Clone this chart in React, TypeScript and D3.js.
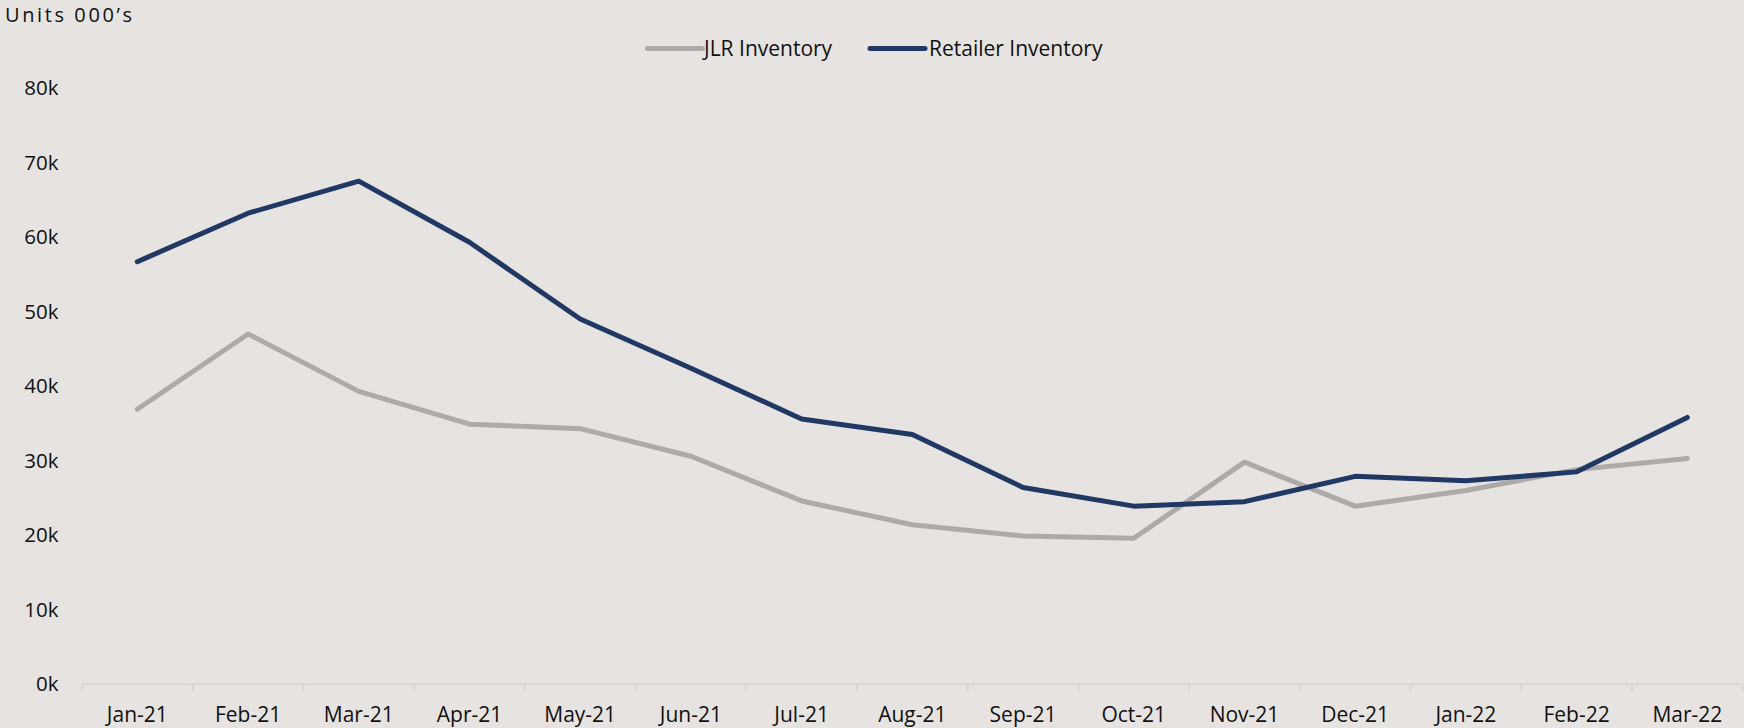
import React from "react";
import * as d3 from "d3";

const categories = ["Jan-21","Feb-21","Mar-21","Apr-21","May-21","Jun-21","Jul-21","Aug-21","Sep-21","Oct-21","Nov-21","Dec-21","Jan-22","Feb-22","Mar-22"];
const jlrInventory = [36.9, 47.0, 39.3, 34.9, 34.3, 30.6, 24.6, 21.4, 19.9, 19.6, 29.8, 23.9, 26.0, 28.8, 30.3];
const retailerInventory = [56.7, 63.2, 67.5, 59.3, 49.0, 42.4, 35.6, 33.5, 26.4, 23.9, 24.5, 27.9, 27.3, 28.5, 35.8];
const yTicks = [0, 10, 20, 30, 40, 50, 60, 70, 80];
const seriesNames = ["JLR Inventory", "Retailer Inventory"];
const colors = ["#aeaaaa", "#1f3864"];

const W = 1744, H = 728;
const FONT = "'Open Sans', Lato, sans-serif";

export default function App() {
  const x0 = 82, x1 = 1742.7;
  const yBottom = 684.3, yTop = 88;
  const x = d3.scalePoint<string>().domain(categories).range([x0, x1]).padding(0.5);
  const band = (x1 - x0) / categories.length;
  const y = d3.scaleLinear().domain([0, 80]).range([yBottom, yTop]);
  const line = d3.line<number>().x((_, i) => x(categories[i]) as number).y(d => y(d));
  const series = [jlrInventory, retailerInventory];

  const legendItems = [
    { lx: 647.5, tx: 704 },
    { lx: 870, tx: 929 },
  ];

  return (
    <div style={{ position: "fixed", left: 0, top: 0, width: W, height: H }}>
      <svg width={W} height={H} style={{ display: "block", fontFamily: FONT }}>
        <rect x={0} y={0} width={W} height={H} fill="#e6e3e0" />
        <text x={5} y={21.5} fontSize={20} letterSpacing={2.6} fill="#111">Units 000’s</text>

        {seriesNames.map((n, i) => (
          <g key={n}>
            <line x1={legendItems[i].lx} x2={legendItems[i].lx + 55} y1={48.5} y2={48.5}
              stroke={colors[i]} strokeWidth={5} strokeLinecap="round" />
            <text x={legendItems[i].tx} y={48.5} dy="0.35em" fontSize={21} fill="#111">{n}</text>
          </g>
        ))}

        {yTicks.map(t => (
          <text key={t} x={58.5} y={y(t)} dy="0.35em" textAnchor="end" fontSize={20.5} fill="#111">{t}k</text>
        ))}

        <line x1={x0} x2={x1} y1={yBottom} y2={yBottom} stroke="#d6d4d2" strokeWidth={1.5} />
        {d3.range(categories.length + 1).map(i => (
          <line key={i} x1={x0 + i * band} x2={x0 + i * band} y1={yBottom} y2={yBottom + 7}
            stroke="#d6d4d2" strokeWidth={1.5} />
        ))}
        {categories.map(c => (
          <text key={c} x={x(c)} y={715} dy="0.35em" textAnchor="middle" fontSize={21} fill="#111">{c}</text>
        ))}

        {series.map((s, i) => (
          <path key={i} d={line(s) || ""} fill="none" stroke={colors[i]} strokeWidth={5}
            strokeLinecap="round" strokeLinejoin="round" />
        ))}
      </svg>
    </div>
  );
}
